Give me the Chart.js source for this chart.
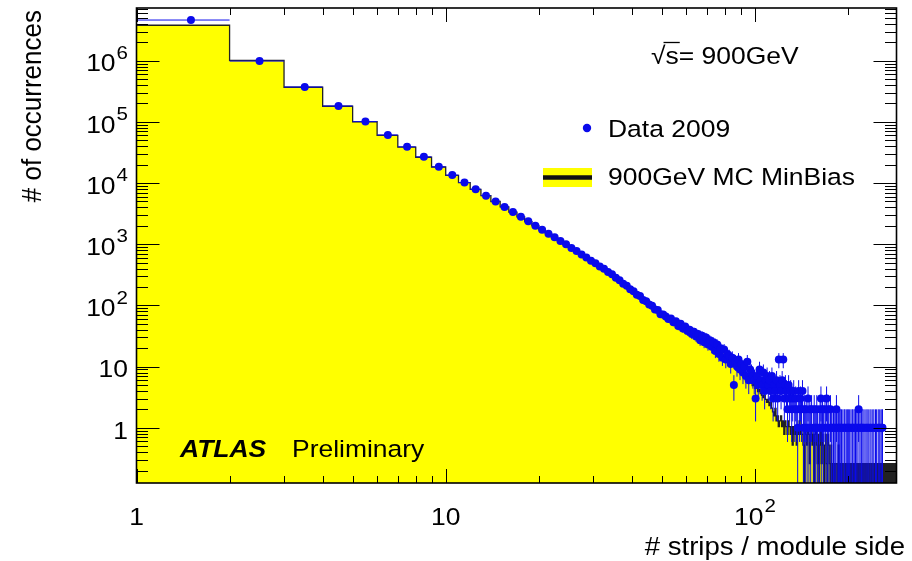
<!DOCTYPE html>
<html>
<head>
<meta charset="utf-8">
<title>Strips per module side</title>
<script src="https://cdn.jsdelivr.net/npm/chart.js@4.4.1/dist/chart.umd.min.js"></script>
<style>
  html, body { margin: 0; padding: 0; background: #fff; }
  canvas { display: block; }
</style>
</head>
<body>
<canvas id="strips-chart" width="912" height="561"></canvas>
<script>
// -----------------------------------------------------------------------------
// Strip multiplicity per module side: 2009 data vs 900 GeV MC
// Integer bins [n, n+1), starting at firstBin
// -----------------------------------------------------------------------------
const firstBin = 1;
const binWidth = 1;

// Data 2009 - raw counts per bin
const dataCounts = [
  4620000, 985000, 372000, 182000, 101000, 61200, 39100, 26800, 18400, 13500,
  10200, 7930, 6220, 5010, 4070, 3370, 2800, 2370, 2000, 1725,
  1480, 1300, 1125, 1000, 870, 772, 678, 608, 536, 487,
  432, 396, 351, 322, 283, 258, 226, 209, 184, 170,
  150, 142, 123, 117, 103, 99, 86, 84, 72, 71,
  66, 60, 61, 53, 55, 46, 50, 42, 45, 38,
  40, 34, 37, 31, 34, 27, 32, 25, 30, 23,
  27, 21, 25, 18, 23, 16, 20, 14, 19, 13,
  16, 15, 11, 14, 5, 12, 10, 13, 9, 11,
  8, 10, 7, 12, 6, 9, 8, 7, 6, 3,
  7, 5, 9, 6, 5, 8, 4, 6, 7, 5,
  6, 4, 7, 3, 5, 4, 6, 3, 13, 5,
  4, 6, 13, 3, 5, 4, 2, 5, 3, 4,
  2, 3, 4, 2, 3, 2, 1, 4, 2, 3,
  2, 4, 1, 2, 1, 2, 1, 3, 1, 2,
  1, 2, 0, 1, 2, 1, 1, 2, 1, 0,
  1, 2, 3, 1, 2, 1, 0, 2, 1, 3,
  1, 2, 1, 0, 2, 1, 1, 0, 1, 1,
  0, 1, 2, 1, 0, 1, 1, 0, 1, 1,
  0, 1, 0, 1, 1, 0, 1, 0, 1, 1,
  0, 1, 0, 1, 0, 1, 1, 0, 1, 0,
  1, 0, 1, 0, 1, 2, 0, 1, 0, 1,
  1, 0, 1, 0, 1, 0, 0, 1, 0, 1,
  0, 1, 0, 0, 1, 0, 1, 0, 0, 1,
  0, 1, 0, 0, 1, 0, 1, 0, 0, 1,
  0, 1, 0, 0, 1, 0, 1, 1, 0, 0,
  0, 0, 0, 0, 0, 0, 0, 0, 0, 0,
  0, 0, 0, 0, 0, 0, 0, 0, 0, 0,
  0, 0, 0, 0, 0, 0, 0
];

// 900GeV MC MinBias - normalised to data
const mcCounts = [
  3800000, 1010000, 368000, 180000, 100500, 60300, 38700, 26400, 18300, 13400,
  10150, 7880, 6230, 4990, 4080, 3360, 2810, 2350, 2010, 1720,
  1490, 1290, 1130, 995, 873, 769, 681, 605, 540, 484,
  435, 393, 355, 320, 285, 255, 229, 206, 186, 168,
  153, 139, 126, 115, 106, 97, 89, 82, 74.5, 70,
  66, 62, 59, 56, 53, 50, 47.5, 45, 43, 40.8,
  38.8, 37, 35.3, 33.7, 32.2, 30.7, 29.4, 28.1, 26.9, 25.8,
  24.7, 22.4, 20.8, 20.3, 18.2, 18.7, 16.4, 15.9, 14.6, 14.8,
  12.7, 13.0, 11.4, 11.7, 10.4, 10.1, 9.4, 9.1, 8.3, 8.6,
  7.5, 7.3, 6.8, 6.5, 6.0, 5.7, 5.5, 4.9, 5.2, 4.4,
  4.7, 3.9, 4.2, 3.6, 3.4, 3.1, 3.4, 2.9, 2.6, 2.9,
  2.3, 2.6, 2.1, 1.82, 1.56, 2.08, 1.3, 1.56, 1.04, 1.3,
  1.56, 1.04, 1.3, 0.78, 1.3, 1.04, 0.78, 1.3, 1.04, 0.78,
  1.04, 0.52, 1.04, 0.78, 1.04, 0.52, 1.04, 0.78, 1.3, 0.78,
  1.04, 0.78, 0.52, 0, 1.04, 0.78, 0.52, 1.04, 0.78, 0.26,
  0.78, 1.04, 0.52, 0.78, 0, 0.78, 1.04, 0.52, 0.26, 0.78,
  0, 0.52, 1.04, 0.26, 0.78, 0.52, 0, 0.52, 0.78, 0.26,
  0, 0.78, 0.52, 0.26, 0, 0.52, 0.26, 0, 0.26, 0,
  0.26, 0, 0.26, 0.26, 0, 0.52, 0, 0.26, 0, 0.26,
  0, 0.26, 0, 0, 0.26, 0, 0.26, 0, 0.26, 0,
  0, 0.26, 0, 0.26, 0, 0, 0.26, 0, 0.26, 0,
  0.26, 0, 0, 0.26, 0, 0.26, 0, 0, 0.26, 0,
  0, 0.26, 0, 0.26, 0, 0, 0.26, 0, 0, 0.26,
  0, 0.26, 0, 0, 0.26, 0, 0, 0.26, 0, 0.26,
  0, 0, 0.26, 0, 0.26, 0, 0, 0.26, 0, 0,
  0.26, 0, 0.26, 0, 0, 0.26, 0, 0, 0.26, 0,
  0, 0.26, 0, 0.26, 0, 0, 0.26, 0, 0, 0.26,
  0, 0.26, 0, 0, 0.26, 0, 0.26, 0, 0, 0.26,
  0, 0, 0.26, 0, 0.26, 0, 0.26
];

// axis ranges and labels
const xMin = 1, xMax = 287;
const yMin = 0.125, yMax = 7.27e6;
const xTickValues = [1, 10, 100];
const xTickBase = ['1', '10', '10'];
const xTickExp = ['', '', '2'];
const yTickValues = [1, 10, 100, 1e3, 1e4, 1e5, 1e6];
const yTickBase = ['1', '10', '10', '10', '10', '10', '10'];
const yTickExp = ['', '', '2', '3', '4', '5', '6'];

const FONT = '"Liberation Sans", Arial, Helvetica, sans-serif';
const SX = 1.08;          // text is drawn slightly wide
const BLUE = 'rgb(10, 10, 235)';
const YELLOW = '#ffff00';

// --- histogram points -------------------------------------------------------
const mcPoints = mcCounts.map((v, i) => ({ x: firstBin + i * binWidth, y: v > 0 ? v : yMin }));
mcPoints.push({ x: firstBin + mcCounts.length * binWidth, y: yMin });

const dataPoints = dataCounts.map((v, i) => ({
  x: firstBin + (i + 0.5) * binWidth,
  y: v > 0 ? v : null
}));

// --- helpers ----------------------------------------------------------------
function wideText(ctx, str, x, y, font, align) {
  ctx.save();
  ctx.translate(x, y);
  ctx.scale(SX, 1);
  ctx.font = font;
  ctx.textAlign = align || 'left';
  ctx.textBaseline = 'middle';
  ctx.fillText(str, 0, 0);
  ctx.restore();
}

function textWidth(ctx, str, font) {
  ctx.save();
  ctx.font = font;
  const w = ctx.measureText(str).width * SX;
  ctx.restore();
  return w;
}

// "10" with a raised exponent; align: 'right' or 'center'
function powerLabel(ctx, base, exp, x, y, align) {
  const fBase = '24.5px ' + FONT;
  const fExp = '19px ' + FONT;
  const wb = textWidth(ctx, base, fBase);
  const we = exp ? textWidth(ctx, exp, fExp) + 1 : 0;
  const total = wb + we;
  const left = align === 'right' ? x - total : x - total / 2;
  wideText(ctx, base, left, y, fBase, 'left');
  if (exp) wideText(ctx, exp, left + wb + 1, y - 11, fExp, 'left');
}

// --- error bars, drawn under the markers -------------------------------------
const errorBars = {
  id: 'errorBars',
  beforeDatasetDraw(chart, args) {
    if (args.index !== 0) return;
    const { ctx, chartArea: a, scales: { x, y } } = chart;
    ctx.save();
    ctx.beginPath();
    ctx.rect(a.left, a.top, a.right - a.left, a.bottom - a.top);
    ctx.clip();
    ctx.strokeStyle = BLUE;
    ctx.lineWidth = 1;
    ctx.beginPath();
    dataCounts.forEach((n, i) => {
      if (!n) return;
      const lo = firstBin + i * binWidth;
      const err = Math.sqrt(n);
      const py = y.getPixelForValue(n);
      const px = x.getPixelForValue(lo + binWidth / 2);
      const top = y.getPixelForValue(n + err);
      const bot = n - err > yMin ? y.getPixelForValue(n - err) : a.bottom;
      ctx.moveTo(x.getPixelForValue(lo), py);
      ctx.lineTo(x.getPixelForValue(lo + binWidth), py);
      ctx.moveTo(px, top);
      ctx.lineTo(px, bot);
    });
    ctx.stroke();
    ctx.restore();
  }
};

// --- frame, inside ticks, labels, titles, legend ----------------------------
const decorations = {
  id: 'decorations',
  afterDraw(chart) {
    const { ctx, chartArea: a, scales: { x, y } } = chart;
    ctx.save();
    ctx.strokeStyle = '#000';
    ctx.lineWidth = 1;
    ctx.beginPath();
    // x ticks (bottom and top), pointing inwards
    for (let d = 0; d <= 2; d++) {
      for (let m = 1; m <= 9; m++) {
        const v = m * Math.pow(10, d);
        if (v < xMin || v > xMax) continue;
        const px = Math.round(x.getPixelForValue(v)) + 0.5;
        const len = m === 1 ? 14 : 7;
        ctx.moveTo(px, a.bottom); ctx.lineTo(px, a.bottom - len);
        ctx.moveTo(px, a.top); ctx.lineTo(px, a.top + len);
      }
    }
    // y ticks (left and right)
    for (let d = -1; d <= 6; d++) {
      for (let m = 1; m <= 9; m++) {
        const v = m * Math.pow(10, d);
        if (v < yMin || v > yMax) continue;
        const py = Math.round(y.getPixelForValue(v)) + 0.5;
        const len = m === 1 ? 23 : 11.5;
        ctx.moveTo(a.left, py); ctx.lineTo(a.left + len, py);
        ctx.moveTo(a.right, py); ctx.lineTo(a.right - len, py);
      }
    }
    ctx.stroke();

    // frame
    ctx.lineWidth = 1.6;
    ctx.strokeRect(a.left, a.top, a.right - a.left, a.bottom - a.top);

    ctx.fillStyle = '#000';
    // tick labels
    xTickValues.forEach((v, i) => {
      powerLabel(ctx, xTickBase[i], xTickExp[i], x.getPixelForValue(v), 518, 'center');
    });
    yTickValues.forEach((v, i) => {
      powerLabel(ctx, yTickBase[i], yTickExp[i], 128, y.getPixelForValue(v) + 4, 'right');
    });

    // axis titles
    wideText(ctx, '# strips / module side', 905, 548, '25.5px ' + FONT, 'right');
    ctx.save();
    ctx.translate(33, 10);
    ctx.scale(SX, 1);
    ctx.rotate(-Math.PI / 2);
    ctx.font = '26px ' + FONT;
    ctx.textAlign = 'right';
    ctx.textBaseline = 'middle';
    ctx.fillText('# of occurrences', 0, 0);
    ctx.restore();

    // ATLAS Preliminary
    wideText(ctx, 'ATLAS', 180, 450, 'italic bold 24.5px ' + FONT, 'left');
    wideText(ctx, 'Preliminary', 292, 450, '24.5px ' + FONT, 'left');

    // sqrt(s) = 900GeV
    const fTxt = '24.5px ' + FONT;
    const wRoot = textWidth(ctx, '\u221A', fTxt);
    const wS = textWidth(ctx, 's', fTxt);
    wideText(ctx, '\u221A', 651, 57, fTxt, 'left');
    wideText(ctx, 's= 900GeV', 651 + wRoot, 57, fTxt, 'left');
    ctx.lineWidth = 1.3;
    ctx.beginPath();
    ctx.moveTo(651 + wRoot - 2, 42.5);
    ctx.lineTo(651 + wRoot + wS + 1, 42.5);
    ctx.stroke();

    // legend
    const ds = chart.data.datasets;
    ctx.fillStyle = ds[0].pointBackgroundColor;
    ctx.beginPath();
    ctx.arc(587, 128, 4.2, 0, Math.PI * 2);
    ctx.fill();
    ctx.fillStyle = '#000';
    wideText(ctx, ds[0].label, 608, 130, fTxt, 'left');

    ctx.fillStyle = ds[1].backgroundColor;
    ctx.fillRect(543, 168, 49, 19);
    ctx.strokeStyle = '#111';
    ctx.lineWidth = 4.5;
    ctx.beginPath();
    ctx.moveTo(543, 177.5);
    ctx.lineTo(592, 177.5);
    ctx.stroke();
    ctx.fillStyle = '#000';
    wideText(ctx, ds[1].label, 608, 178, fTxt, 'left');
    ctx.restore();
  }
};

new Chart(document.getElementById('strips-chart'), {
  type: 'line',
  data: {
    datasets: [
      {
        label: 'Data 2009',
        data: dataPoints,
        showLine: false,
        pointRadius: 4,
        pointHoverRadius: 4,
        pointBorderWidth: 0,
        pointBackgroundColor: BLUE,
        pointBorderColor: BLUE,
        order: 0
      },
      {
        label: '900GeV MC MinBias',
        data: mcPoints,
        stepped: true,
        borderColor: '#222',
        borderWidth: 1.3,
        backgroundColor: YELLOW,
        fill: 'start',
        pointRadius: 0,
        tension: 0,
        order: 1
      }
    ]
  },
  options: {
    responsive: false,
    animation: false,
    devicePixelRatio: 1,
    layout: { padding: { left: 136.5, right: 15.5, top: 8, bottom: 78 } },
    scales: {
      x: { type: 'logarithmic', min: xMin, max: xMax, display: false },
      y: { type: 'logarithmic', min: yMin, max: yMax, display: false }
    },
    plugins: {
      legend: { display: false },
      tooltip: { enabled: false }
    }
  },
  plugins: [errorBars, decorations]
});
</script>
</body>
</html>
